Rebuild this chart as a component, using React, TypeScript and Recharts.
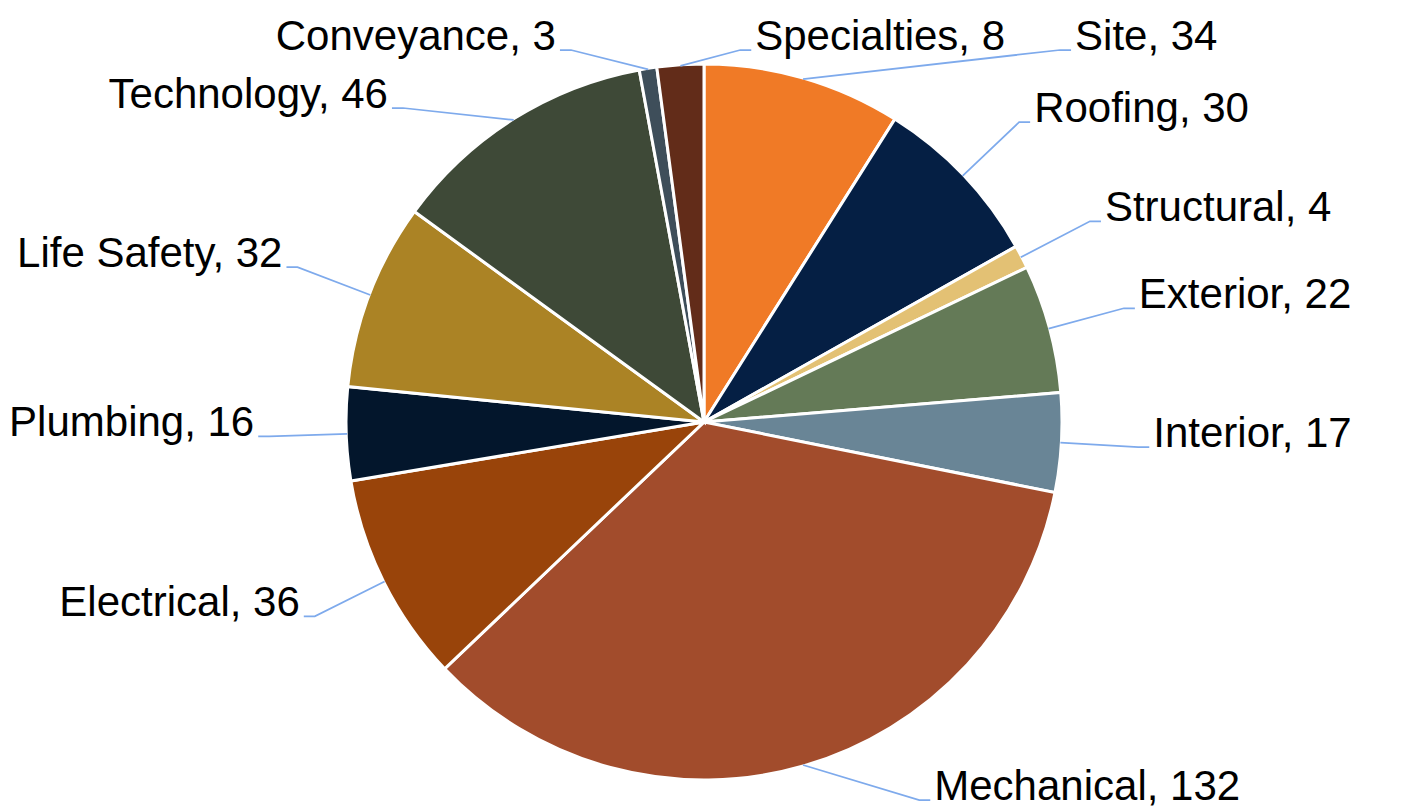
import React from "react";
import { PieChart, Pie, Cell } from "recharts";

// slice order runs clockwise from 12 o'clock
const categories = [
  "Site",
  "Roofing",
  "Structural",
  "Exterior",
  "Interior",
  "Mechanical",
  "Electrical",
  "Plumbing",
  "Life Safety",
  "Technology",
  "Conveyance",
  "Specialties",
];
const counts = [34, 30, 4, 22, 17, 132, 36, 16, 32, 46, 3, 8];

const PALETTE = [
  "#F07A26",
  "#051F44",
  "#E3C174",
  "#647A57",
  "#698596",
  "#A24C2C",
  "#99440A",
  "#03162C",
  "#AB8325",
  "#3E4937",
  "#3E4E5A",
  "#622C19",
];

const W = 1409;
const H = 810;
const CX = 704;
const CY = 422;
const R = 358;
const FONT = 42;
const FONT_FAMILY = '"Liberation Sans", Arial, sans-serif';
const LEADER = "#7EAAEC";

// label layout knobs
const RE = 435; // radius of the label elbow
const TOP_SHIFT = 65; // outward nudge for labels pinned to the top row
const Y_TOP = 50;
const Y_BOT = 800;
const ROW_GAP = 58;
const GAP_X = 55;
const SEG = 11;
const TEXT_OFF = 15;

const data = categories.map((name, i) => ({ name, value: counts[i] }));

function textWidth(s: string) {
  const ctx = document.createElement("canvas").getContext("2d");
  if (!ctx) return s.length * FONT * 0.52;
  ctx.font = `${FONT}px ${FONT_FAMILY}`;
  return ctx.measureText(s).width;
}

type Lab = {
  theta: number;
  side: number;
  gx: number;
  gy: number;
  ex: number;
  ey: number;
  text: string;
  w: number;
};

function layoutLabels(): Lab[] {
  const total = counts.reduce((a, b) => a + b, 0);
  let cum = 0;
  const labs: Lab[] = counts.map((v, i) => {
    const theta = ((cum + v / 2) / total) * 2 * Math.PI;
    cum += v;
    const s = Math.sin(theta);
    const c = Math.cos(theta);
    const text = `${categories[i]}, ${v}`;
    return {
      theta,
      side: s >= -0.1 ? 1 : -1,
      gx: CX + RE * s,
      gy: CY - RE * c,
      ex: 0,
      ey: 0,
      text,
      w: textWidth(text),
    };
  });

  for (const side of [1, -1]) {
    const group = labs.filter((l) => l.side === side).sort((a, b) => a.gy - b.gy);
    let prev: Lab | null = null;
    let rowEdge: number | null = null;
    for (const l of group) {
      if (l.gy < Y_TOP) {
        // too high: sit on the top row, next to the previous top-row label
        l.ey = Y_TOP;
        let x = l.gx + side * TOP_SHIFT;
        if (rowEdge !== null) {
          x = side > 0 ? Math.max(x, rowEdge + GAP_X) : Math.min(x, rowEdge - GAP_X);
        }
        l.ex = x;
        rowEdge = x + side * (TEXT_OFF + l.w);
      } else {
        let y = Math.min(l.gy, Y_BOT);
        if (prev && y < prev.ey + ROW_GAP) y = prev.ey + ROW_GAP;
        l.ey = y;
        if (y !== l.gy) {
          const dy = y - CY;
          const dx = Math.sqrt(Math.max(RE * RE - dy * dy, 0));
          l.ex = CX + side * Math.max(dx, side * (l.gx - CX));
        } else {
          l.ex = l.gx;
        }
      }
      prev = l;
    }
  }
  return labs;
}

export default function App() {
  const labs = React.useMemo(layoutLabels, []);

  const renderLabel = (props: any) => {
    const l = labs[props.index];
    if (!l) return null;
    const cx = props.cx ?? CX;
    const cy = props.cy ?? CY;
    const r = props.outerRadius ?? R;
    const sx = cx + (r - 1) * Math.sin(l.theta);
    const sy = cy - (r - 1) * Math.cos(l.theta);
    const hx = l.ex + l.side * SEG;
    return (
      <g key={`lab-${props.index}`}>
        <polyline
          points={`${sx},${sy} ${l.ex},${l.ey} ${hx},${l.ey}`}
          fill="none"
          stroke={LEADER}
          strokeWidth={1.75}
        />
        <text
          x={l.ex + l.side * TEXT_OFF}
          y={l.ey}
          textAnchor={l.side > 0 ? "start" : "end"}
          fontSize={FONT}
          fontFamily={FONT_FAMILY}
          fill="#000"
        >
          {l.text}
        </text>
      </g>
    );
  };

  return (
    <div style={{ position: "absolute", left: 0, top: 0, width: W, height: H, background: "#fff" }}>
      <PieChart width={W} height={H} margin={{ top: 0, right: 0, bottom: 0, left: 0 }}>
        <Pie
          data={data}
          dataKey="value"
          nameKey="name"
          cx={CX}
          cy={CY}
          outerRadius={R}
          startAngle={90}
          endAngle={-270}
          stroke="#fff"
          strokeWidth={3}
          labelLine={false}
          label={renderLabel}
          isAnimationActive={false}
        >
          {data.map((d, i) => (
            <Cell key={d.name} fill={PALETTE[i]} stroke="#fff" strokeWidth={3} />
          ))}
        </Pie>
      </PieChart>
    </div>
  );
}
